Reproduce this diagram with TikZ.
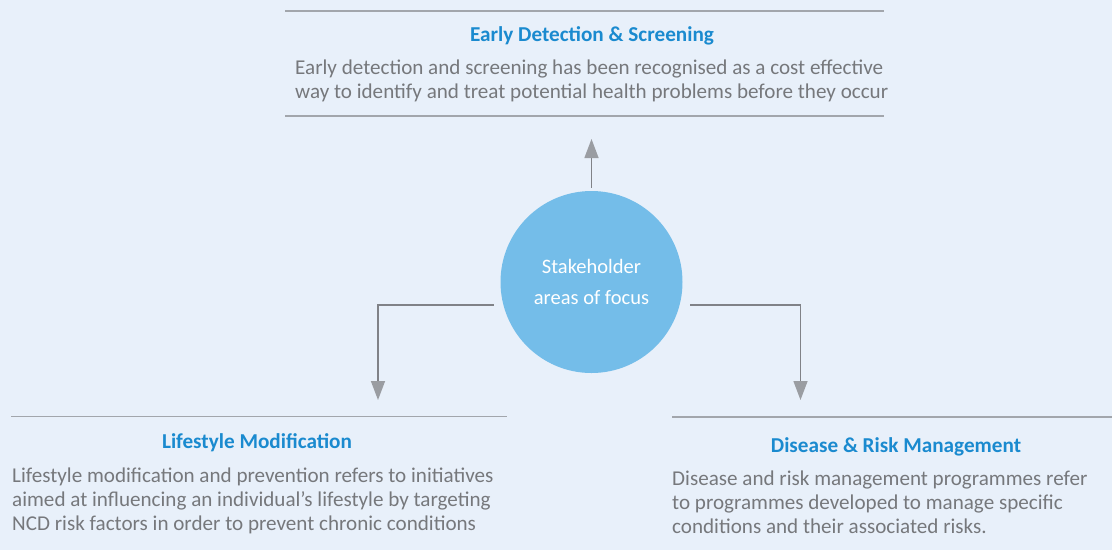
\documentclass[tikz,border=0pt]{standalone}
\usepackage{fontspec}
\setmainfont{Carlito}
\usetikzlibrary{arrows.meta}
\definecolor{bg}{HTML}{E8F0FA}
\definecolor{headblue}{HTML}{1A8ACF}
\definecolor{bodygrey}{HTML}{76787C}
\definecolor{hubblue}{HTML}{74BDE9}
\definecolor{rulegrey}{HTML}{A2A6AC}
\definecolor{linegrey}{HTML}{808287}
\definecolor{tipgrey}{HTML}{9A9DA2}
\begin{document}
\begin{tikzpicture}[x=1pt,y=-1pt,
  rule/.style={draw=rulegrey,line width=1.4pt},
  heading/.style={font=\fontsize{21.2}{24}\selectfont\bfseries,text=headblue,inner sep=0pt,anchor=base},
  body/.style={font=\fontsize{21.1}{24.2}\selectfont,text=bodygrey,inner sep=0pt,align=left,anchor=north west},
  conn/.style={draw=linegrey,line width=1.4pt,
    -{Triangle[width=14pt,length=19pt,sep=6pt,color=tipgrey,fill=tipgrey]}},
  hubstyle/.style={circle,fill=hubblue,minimum size=182pt,inner sep=0pt,
    text=white,align=center,font=\fontsize{20.5}{31}\selectfont}]
  \useasboundingbox (0,0) rectangle (1112,550);
  \fill[bg] (0,0) rectangle (1112,550);

  % central hub
  \node[hubstyle] (hub) at (591.5,282) {\raisebox{-2.5pt}{Stakeholder}\\\raisebox{-2.5pt}{areas of focus}};

  % early detection block
  \draw[rule] (285,11) -- (884,11);
  \draw[rule] (285,116) -- (884,116);
  \node[heading] (edhead) at (592,41) {Early Detection \& Screening};
  \node[body] (edbody) at (295,59.5) {Early detection and screening has been recognised as a cost effective\\way to identify and treat potential health problems before they occur};
  \coordinate (edtip) at (591.5,133);

  % lifestyle block
  \draw[rule] (11,416.5) -- (507,416.5);
  \node[heading] (lmhead) at (257,448) {Lifestyle Modification};
  \node[body] (lmbody) at (12,467.5) {Lifestyle modification and prevention refers to initiatives\\aimed at influencing an individual’s lifestyle by targeting\\NCD risk factors in order to prevent chronic conditions};
  \coordinate (lmtip) at (378,406);

  % disease block
  \draw[rule] (672,417) -- (1112,417);
  \node[heading] (dmhead) at (896,452) {Disease \& Risk Management};
  \node[body] (dmbody) at (672,470.5) {Disease and risk management programmes refer\\to programmes developed to manage specific\\conditions and their associated risks.};
  \coordinate (dmtip) at (800.5,406);

  % connectors
  \draw[conn] ([yshift=3pt]hub.north) -- (edtip);
  \draw[conn] ([xshift=-6.5pt,yshift=-23pt]hub.west) -| (lmtip);
  \draw[conn] ([xshift=7.5pt,yshift=-23pt]hub.east) -| (dmtip);
\end{tikzpicture}
\end{document}
